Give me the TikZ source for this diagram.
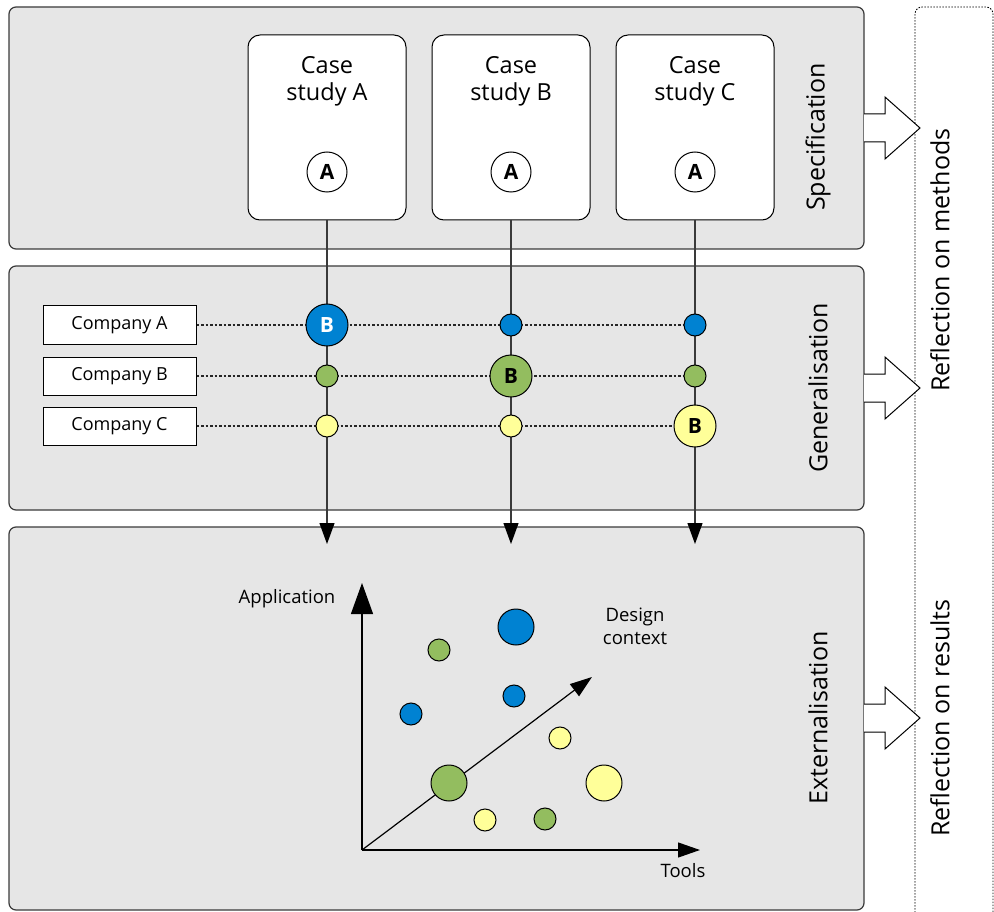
\documentclass[tikz,border=0pt]{standalone}
\usepackage{fontspec}
\setmainfont{Open Sans}
\usetikzlibrary{arrows.meta}
\definecolor{panelgray}{HTML}{E6E6E6}
\definecolor{edgegray}{HTML}{3A3A3A}
\definecolor{dotblue}{HTML}{0082D2}
\definecolor{dotgreen}{HTML}{93BD5F}
\definecolor{dotyellow}{HTML}{FFFF99}
\tikzset{
  panel/.style={draw=edgegray, fill=panelgray, line width=1.2pt, rounded corners=7pt},
  casebox/.style={draw=black, fill=white, line width=1pt, rounded corners=12pt},
  company/.style={draw=black, fill=white, line width=1pt, minimum width=153pt, minimum height=38pt, inner sep=0pt, font=\fontsize{18}{21}\selectfont},
  dotnode/.style={circle, draw=black, line width=1pt, inner sep=0pt},
  small/.style={dotnode, minimum size=22pt},
  big/.style={dotnode, minimum size=42pt, font=\fontsize{21}{21}\selectfont\bfseries},
  huge/.style={dotnode, minimum size=36pt},
  bA/.style={dotnode, fill=white, minimum size=40pt, font=\fontsize{21}{21}\selectfont\bfseries},
  conn/.style={draw=edgegray, line width=1.2pt},
  link/.style={draw=black!85, line width=1.1pt, dash pattern=on 2.5pt off 2pt},
  phase/.style={rotate=90, font=\fontsize{25}{30}\selectfont},
  label/.style={font=\fontsize{18.5}{23}\selectfont, align=center},
  blockarrow/.style={draw=black, fill=white, line width=1pt},
  headtip/.style={-{Triangle[length=#1, width=15pt, color=black]}},
}
\begin{document}
\begin{tikzpicture}[x=1pt, y=-1pt]
\useasboundingbox (0,0) rectangle (994,912);

% reflection column
\draw[line width=0.9pt, dash pattern=on 1.5pt off 1.5pt, rounded corners=7pt]
  (993,930) -- (993,7) -- (915,7) -- (915,930);
\node[phase] (rm) at (940,260) {Reflection on methods};
\node[phase] (rr) at (940,718) {Reflection on results};

% three phases
\draw[panel] (9,7) rectangle (864,249);
\draw[panel] (9,266) rectangle (864,510);
\draw[panel] (9,527) rectangle (864,910);
\node[phase] (sp) at (818,137) {Specification};
\node[phase] (ge) at (818,388) {Generalisation};
\node[phase] (ex) at (818,718) {Externalisation};

% block arrows towards the reflection column
\foreach \yy in {128,388,718}{
  \draw[blockarrow] (864,\yy-14) -- (885,\yy-14) -- (885,\yy-31) -- (920,\yy)
    -- (885,\yy+31) -- (885,\yy+14) -- (864,\yy+14);
}

% case studies
\foreach \n/\cx/\t in {A/327/A, B/511/B, C/695/C}{
  \draw[casebox] (\cx-79,35) rectangle (\cx+79,220);
  \node[font=\fontsize{23.5}{27}\selectfont, align=center, anchor=north] (title\n) at (\cx,53) {Case\\study \t};
  \coordinate (top\n) at (\cx,220);
  \coordinate (end\n) at (\cx,544);
}

% vertical connectors
\foreach \n in {A,B,C}{
  \draw[conn, headtip=21pt] (top\n) -- (end\n);
}
\foreach \n/\cx in {A/327, B/511, C/695}{
  \node[bA] (a\n) at (\cx,172) {A};
}

% companies
\node[company] (cA) at (119.5,325) {\raisebox{-2pt}{Company A}};
\node[company] (cB) at (119.5,376) {\raisebox{-2pt}{Company B}};
\node[company] (cC) at (119.5,426) {\raisebox{-2pt}{Company C}};

\coordinate (rA) at (695,325);
\coordinate (rB) at (695,376);
\coordinate (rC) at (695,426);
\draw[link] (cA.east) -- (rA);
\draw[link] (cB.east) -- (rB);
\draw[link] (cC.east) -- (rC);

\node[big, fill=dotblue, text=white] (bAA) at (327,325) {B};
\node[small, fill=dotgreen] (bAB) at (327,376) {};
\node[small, fill=dotyellow] (bAC) at (327,426) {};
\node[small, fill=dotblue] (bBA) at (511,325) {};
\node[big, fill=dotgreen] (bBB) at (511,376) {B};
\node[small, fill=dotyellow] (bBC) at (511,426) {};
\node[small, fill=dotblue] (bCA) at (695,325) {};
\node[small, fill=dotgreen] (bCB) at (695,376) {};
\node[big, fill=dotyellow] (bCC) at (695,426) {B};

% design space
\coordinate (o) at (362,850);
\coordinate (ytip) at (362,583);
\coordinate (xtip) at (700,850);
\coordinate (dtip) at (592,677);
\draw[line width=1.2pt, -{Triangle[length=31pt, width=22pt]}] (o) -- (ytip);
\draw[line width=1.2pt, -{Triangle[length=22pt, width=15pt]}] (o) -- (xtip);
\draw[line width=1.2pt, -{Triangle[length=22pt, width=15pt]}] (o) -- (dtip);
\node[label] (lapp) at (287,599) {Application};
\node[label] (ldes) at (635,626) {Design\\context};
\node[label] (ltool) at (683,871) {Tools};

\node[huge, fill=dotblue] (p1) at (516,627) {};
\node[small, fill=dotgreen] (p2) at (439,650) {};
\node[small, fill=dotblue] (p3) at (514,696) {};
\node[small, fill=dotblue] (p4) at (411,714) {};
\node[small, fill=dotyellow] (p5) at (560,738) {};
\node[huge, fill=dotgreen] (p6) at (449,783) {};
\node[huge, fill=dotyellow] (p7) at (604,783) {};
\node[small, fill=dotyellow] (p8) at (485,820) {};
\node[small, fill=dotgreen] (p9) at (545,819) {};
\end{tikzpicture}
\end{document}
